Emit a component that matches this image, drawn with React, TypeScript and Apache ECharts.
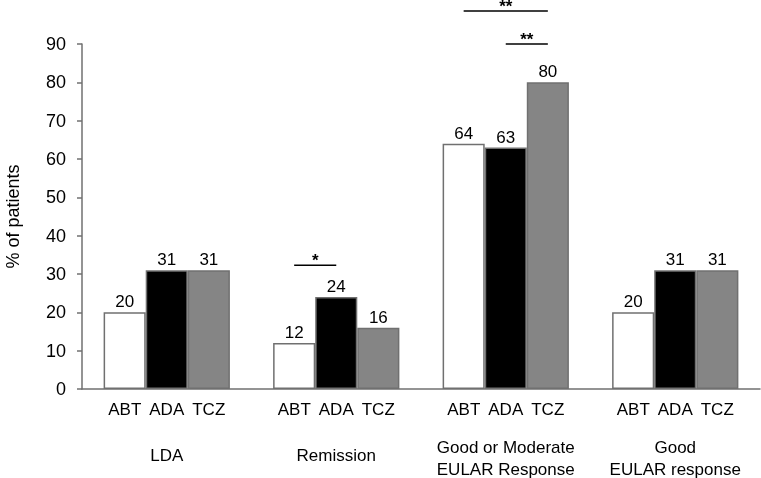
import React, { useEffect, useRef } from "react";
import * as echarts from "echarts";

const groups = ["LDA", "Remission", "Good or Moderate\nEULAR Response", "Good\nEULAR response"];
const drugs = ["ABT", "ADA", "TCZ"];
const abt = [20, 12, 64, 20];
const ada = [31, 24, 63, 31];
const tcz = [31, 16, 80, 31];
const yTicks = { min: 0, max: 90, interval: 10 };
// [groupIndex, fromBar, toBar, yValue, label]
const sigLines: [number, number, number, number, string][] = [
  [1, 0, 1, 32.3, "*"],
  [2, 0, 2, 98.6, "**"],
  [2, 1, 2, 90, "**"],
];

const FONT = "Liberation Sans, Arial, sans-serif";
const GAP = 0.255;

export default function App() {
  const ref = useRef<HTMLDivElement>(null);
  useEffect(() => {
    const chart = echarts.init(ref.current!, null, { renderer: "svg" });
    const barStyle = (fill: string) => ({
      color: fill,
      borderColor: "#707070",
      borderWidth: 1.5,
    });
    const label = {
      show: true,
      position: "top" as const,
      distance: 2,
      color: "#000",
      fontSize: 17,
      fontFamily: FONT,
    };
    const series: any[] = [
      { name: drugs[0], type: "bar", data: abt, itemStyle: barStyle("#ffffff"), label, barGap: "0%", barCategoryGap: GAP * 100 + "%" },
      { name: drugs[1], type: "bar", data: ada, itemStyle: barStyle("#000000"), label, barGap: "0%", barCategoryGap: GAP * 100 + "%" },
      { name: drugs[2], type: "bar", data: tcz, itemStyle: barStyle("#858585"), label, barGap: "0%", barCategoryGap: GAP * 100 + "%" },
      {
        type: "custom",
        clip: false,
        silent: true,
        data: sigLines,
        encode: { x: 0, y: 3 },
        renderItem: (params: any, api: any) => {
          const g = api.value(0);
          const from = api.value(1);
          const to = api.value(2);
          const v = api.value(3);
          const txt = sigLines[params.dataIndex][4];
          const c = api.coord([g, v]);
          const band = api.size([1, 0])[0];
          const bw = (band * (1 - GAP)) / 3;
          const x1 = c[0] + (from - 1) * bw;
          const x2 = c[0] + (to - 1) * bw;
          return {
            type: "group",
            children: [
              { type: "line", shape: { x1, y1: c[1], x2, y2: c[1] }, style: { stroke: "#000", lineWidth: 1.5 } },
              {
                type: "text",
                x: (x1 + x2) / 2,
                y: c[1] - 5,
                style: { text: txt, align: "center", verticalAlign: "middle", lineHeight: 6, font: "bold 17px " + FONT, fill: "#000" },
              },
            ],
          };
        },
      },
    ];
    chart.setOption({
      animation: false,
      grid: { left: 82, right: 1, top: 44, bottom: 89, containLabel: false, outerBoundsMode: "none" },
      xAxis: {
        type: "category",
        data: groups,
        axisLine: { lineStyle: { color: "#707070", width: 1.5 } },
        axisTick: { show: false },
        axisLabel: {
          interval: 0,
          margin: 9,
          formatter: (val: string) => {
            const lines = val.split("\n");
            const top = drugs.map((d) => `{b|${d}}`).join("");
            const spacer = lines.length > 1 ? "{s2| }" : "{s1| }";
            return top + "\n" + spacer + "\n" + lines.map((l) => `{g|${l}}`).join("\n");
          },
          rich: {
            b: { width: 42, align: "center", fontSize: 17, fontFamily: FONT, color: "#000", lineHeight: 22 },
            s1: { fontSize: 2, lineHeight: 24 },
            s2: { fontSize: 2, lineHeight: 16 },
            g: { fontSize: 17, fontFamily: FONT, color: "#000", lineHeight: 22, align: "center" },
          },
        },
      },
      yAxis: {
        type: "value",
        min: yTicks.min,
        max: yTicks.max,
        interval: yTicks.interval,
        name: "% of patients",
        nameLocation: "middle",
        nameRotate: 90,
        nameGap: 60,
        nameTextStyle: { fontSize: 18, fontFamily: FONT, color: "#000" },
        axisLine: { show: true, lineStyle: { color: "#707070", width: 1.5 } },
        axisTick: { show: true, length: 5, lineStyle: { color: "#707070", width: 1.5 } },
        splitLine: { show: false },
        axisLabel: { fontSize: 18, fontFamily: FONT, color: "#000", margin: 16 },
      },
      series,
    });
    return () => chart.dispose();
  }, []);
  return <div ref={ref} style={{ position: "fixed", left: 0, top: 0, width: 761, height: 478 }} />;
}
